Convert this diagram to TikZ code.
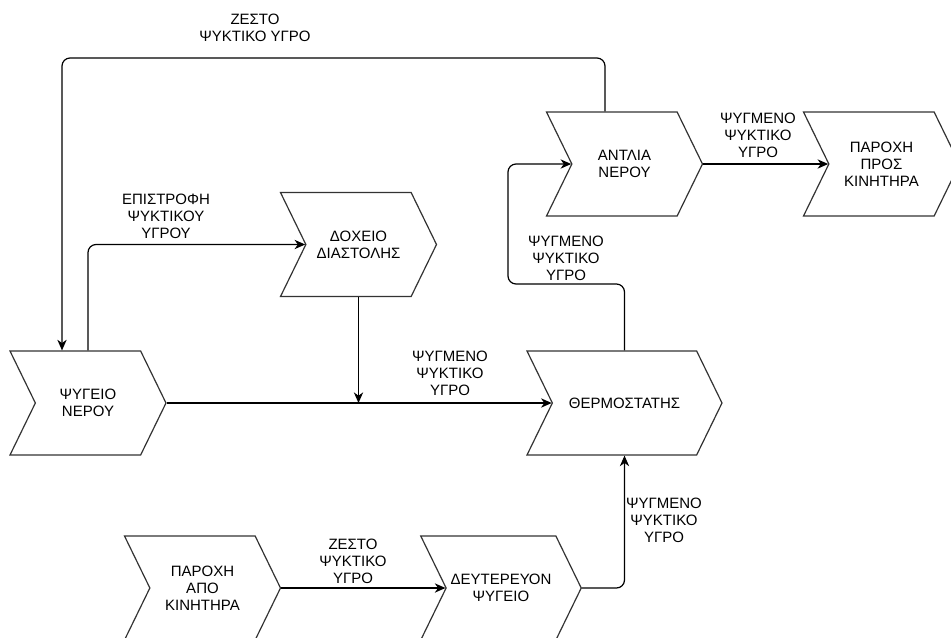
\documentclass[tikz,border=0pt]{standalone}
\usepackage{fontspec}
\setmainfont{Liberation Sans}
\usetikzlibrary{positioning,arrows.meta,shapes.symbols,calc}

\begin{document}
\begin{tikzpicture}[x=0.75pt, y=-0.75pt, >={Stealth[length=8pt,width=7pt,inset=2.5pt]},
    block/.style={signal, signal to=east, signal from=west, signal pointer angle=128,
        draw=black!80, line width=0.9pt, minimum width=117pt, minimum height=78pt,
        align=center, font=\fontsize{11.25}{12.75}\selectfont},
    flow/.style={->, line width=0.9pt, rounded corners=6pt},
    lbl/.style={align=center, font=\fontsize{11.25}{12.75}\selectfont}]
    \useasboundingbox (0,0) rectangle (951,637);

    \node[block] (psygeio) at (88,403) {ΨΥΓΕΙΟ\\ΝΕΡΟΥ};
    \node[block] (doxeio) at (358.5,244.5) {ΔΟΧΕΙΟ\\ΔΙΑΣΤΟΛΗΣ};
    \node[block] (antlia) at (624.5,164) {ΑΝΤΛΙΑ\\ΝΕΡΟΥ};
    \node[block] (pros) at (881.5,164) {ΠΑΡΟΧΗ\\ΠΡΟΣ\\ΚΙΝΗΤΗΡΑ};
    \node[block, minimum width=146.25pt] (thermo) at (624.5,403) {ΘΕΡΜΟΣΤΑΤΗΣ};
    \node[block] (apo) at (202.5,588) {ΠΑΡΟΧΗ\\ΑΠΟ\\ΚΙΝΗΤΗΡΑ};
    \node[block] (deuter) at (501,588) {ΔΕΥΤΕΡΕΥΟΝ\\ΨΥΓΕΙΟ};

    \coordinate (hotturn) at (62,58);
    \coordinate (coolturn) at (508,284);

    \draw[flow] ($(antlia.north)+(-19.5,0)$) |- (hotturn) -- ($(psygeio.north)+(-26,0)$);
    \draw[flow] (psygeio.north) |- (doxeio.west);
    \draw[flow] (doxeio.south) -- (doxeio.south |- psygeio.east);
    \draw[flow] (psygeio.east) -- (thermo.west);
    \draw[flow] (thermo.north) |- (coolturn) |- (antlia.west);
    \draw[flow] (antlia.east) -- (pros.west);
    \draw[flow] (apo.east) -- (deuter.west);
    \draw[flow] (deuter.east) -| (thermo.south);

    \node[lbl] (lhot) at (255,28) {ΖΕΣΤΟ\\ΨΥΚΤΙΚΟ ΥΓΡΟ};
    \node[lbl] (lret) at (166,216) {ΕΠΙΣΤΡΟΦΗ\\ΨΥΚΤΙΚΟΥ\\ΥΓΡΟΥ};
    \node[lbl] (lmain) at (450,373) {ΨΥΓΜΕΝΟ\\ΨΥΚΤΙΚΟ\\ΥΓΡΟ};
    \node[lbl] (lup) at (566,258) {ΨΥΓΜΕΝΟ\\ΨΥΚΤΙΚΟ\\ΥΓΡΟ};
    \node[lbl] (lout) at (758,135) {ΨΥΓΜΕΝΟ\\ΨΥΚΤΙΚΟ\\ΥΓΡΟ};
    \node[lbl] (lin) at (353,561) {ΖΕΣΤΟ\\ΨΥΚΤΙΚΟ\\ΥΓΡΟ};
    \node[lbl] (lsec) at (664,520) {ΨΥΓΜΕΝΟ\\ΨΥΚΤΙΚΟ\\ΥΓΡΟ};
\end{tikzpicture}
\end{document}
